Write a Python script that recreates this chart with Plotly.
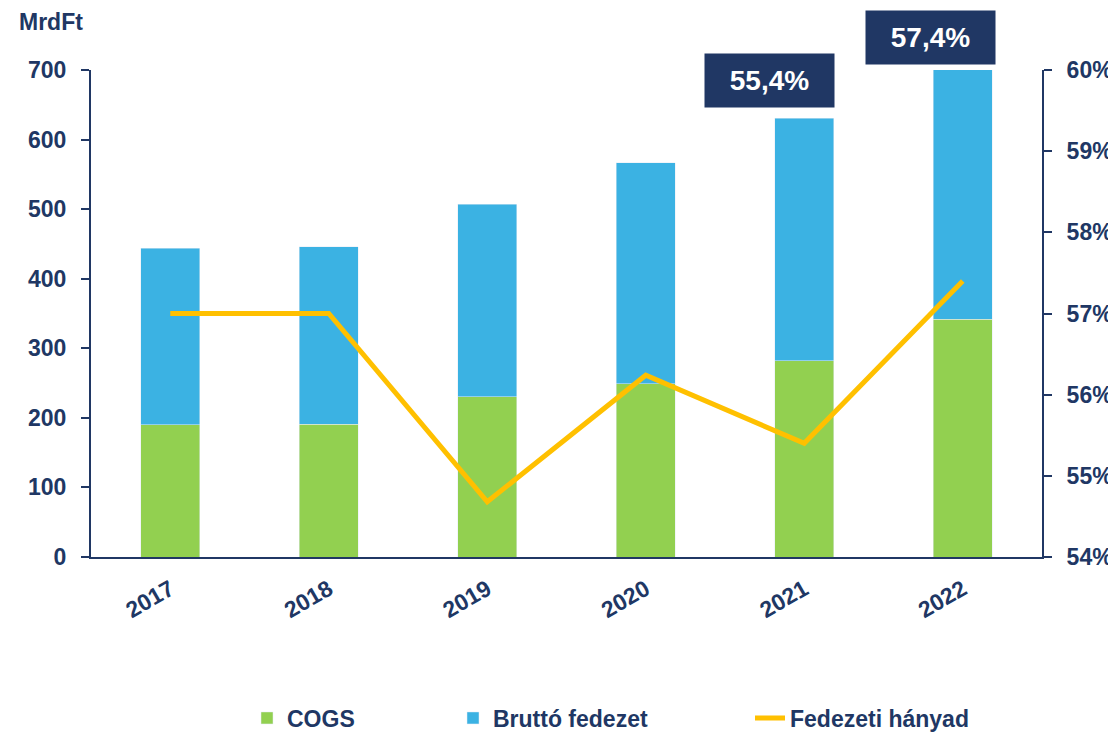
import plotly.graph_objects as go

# Adatok (MrdFt, illetve %)
evek = ['2017', '2018', '2019', '2020', '2021', '2022']
cogs = [190, 191, 230, 249, 282, 342]
brutto_fedezet = [254, 255, 277, 318, 349, 359]
fedezeti_hanyad = [57.0, 57.0, 54.68, 56.24, 55.4, 57.4]

navy = '#203764'
betu = 'Liberation Sans, Arial, sans-serif'

fig = go.Figure()

fig.add_trace(go.Bar(x=evek, y=cogs, name='COGS', marker_color='#92D050',
                     width=0.37, legendwidth=161))
fig.add_trace(go.Bar(x=evek, y=brutto_fedezet, name='Bruttó fedezet',
                     marker_color='#3BB2E3', width=0.37, legendwidth=252))
fig.add_trace(go.Scatter(x=evek, y=fedezeti_hanyad, name='Fedezeti hányad',
                         mode='lines', line=dict(color='#FFC000', width=5),
                         yaxis='y2'))

# kiemelt dobozok 2021 es 2022 fole (pixelbol szamolt papir-koordinata)
for ev, px, py in [('2021', 769.5, 80.5), ('2022', 930.5, 37.5)]:
    v = fedezeti_hanyad[evek.index(ev)]
    fig.add_annotation(x=(px - 91) / 951, y=(557 - py) / 487,
                       xref='paper', yref='paper',
                       xanchor='center', yanchor='middle',
                       text=f'{v:.1f}%'.replace('.', ','), showarrow=False,
                       bgcolor=navy, width=129, height=53, borderpad=0,
                       font=dict(family=betu, size=28, color='white', weight='bold'))

fig.add_annotation(x=-0.078, y=1.099, xref='paper', yref='paper', text='MrdFt',
                   showarrow=False, xanchor='left', yanchor='middle',
                   font=dict(family=betu, size=23, color=navy, weight='bold'))

tengely = dict(showgrid=False, zeroline=False, showline=True, linecolor=navy,
               linewidth=2, ticks='outside', ticklen=8, tickwidth=2, tickcolor=navy,
               automargin=False,
               tickfont=dict(family=betu, size=23, color=navy, weight='bold'))

# a body 8px-es margoja miatt a figura 8px-el kisebb
fig.update_layout(
    width=1108, height=724,
    margin=dict(l=83, r=74, t=62, b=175, autoexpand=False),
    plot_bgcolor='white', paper_bgcolor='white',
    barmode='stack',
    xaxis=dict(showgrid=False, showline=True, linecolor=navy, linewidth=2,
               ticks='', tickangle=-30, ticklabelstandoff=8,
               range=[-0.5, 5.5], automargin=False,
               tickfont=dict(family=betu, size=23, color=navy, weight='bold')),
    yaxis=dict(range=[0, 700], dtick=100, ticklabelstandoff=10, **tengely),
    yaxis2=dict(range=[54, 60], dtick=1, ticksuffix='%', overlaying='y',
                side='right', ticklabelstandoff=10, **tengely),
    legend=dict(orientation='h', x=(247 - 91) / 951, xanchor='left',
                y=(557 - 718) / 487, yanchor='middle', traceorder='normal',
                font=dict(family=betu, size=23, color=navy, weight='bold')),
)

fig.write_html('out.html')
